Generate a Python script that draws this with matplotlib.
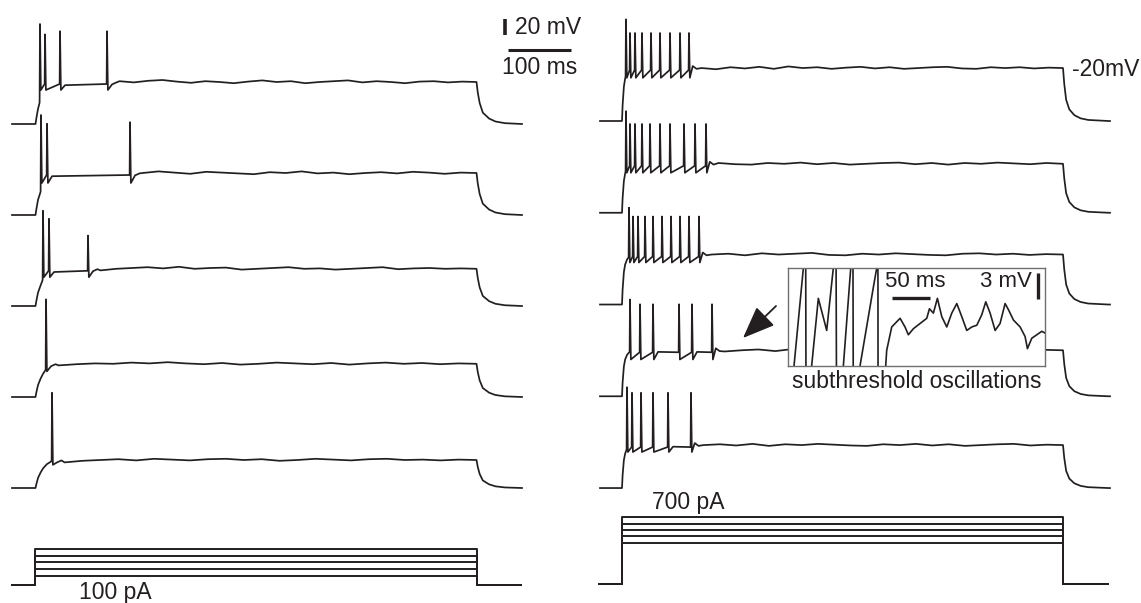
import numpy as np
import matplotlib.pyplot as plt

W, H = 1141, 603
INK = '#231f20'
plt.rcParams['font.family'] = ['Liberation Sans', 'DejaVu Sans']

# ---- data: time in ms, membrane potential in mV, current in pA ----
step_ms = 700

# left cell (100 pA family)
left_base = [-70, -70, -70, -70, -70]
left_plateau = [-17.5, -17.5, -23.5, -28.5, -35]
left_spike_t = [[7.1, 15.1, 38.9, 113.5], [8.7, 18.3, 150.0], [11.9, 21.4, 83.3], [16.7], [26.2]]
left_spike_v = [[55, 42, 46, 46], [55, 44, 46], [49, 39, 18], [52], [49]]
left_trough = [-27.5, -30, -34, -38, -41]
left_wiggle = [
    [1.0, -0.5, 1.5, 2.5, 0.5, -1.0, 1.0, 0, -1.5, 0.5, 2.0, 0, 1.0, -1.5, 0, 1.0, 2.0, -0.5, 1.0, 0, -1.5, 0.5, 1.0, -0.5, 0.5, 0],
    [0, 2.0, 0.5, -1.0, 1.5, 0.5, -0.5, -1.5, 1.0, 0, 2.0, -0.5, 0.5, -1.5, 0, 1.0, -0.5, 1.5, 0.5, -1.0, 0.5, 0],
    [-2.0, 0, 1.0, 2.0, 0.5, 2.5, 0, 1.0, 1.5, -1.0, 0, 1.0, 2.0, 0, 0.5, -1.0, 0, 1.0, 2.0, -0.5, 0.5, 1.0, 0, 0.5, 0],
    [-2.0, -0.5, 0.5, 0, 1.5, 0.5, 2.0, 0.5, -0.5, 1.0, -1.0, 0, 1.5, 0.5, -0.5, 1.0, -1.0, 0.5, 1.5, 0, 1.0, -0.5, 0.5, 0],
    [-3.0, -1.0, 0, 1.0, -0.5, 1.5, 0.5, -0.5, 1.0, 1.5, 0, 1.0, -1.0, 0, 1.5, 0.5, -0.5, 1.0, 1.5, 0, 0.5, -0.5, 0.5, 0],
]
left_currents = [100, 175, 250, 325, 400]

# right cell (700 pA family)
right_base = [-85, -85, -85, -85, -85]
right_plateau = [-18.8, -23.8, -22.5, -27.5, -31.3]
right_spike_t = [
    [6.3, 12.7, 20.6, 31.7, 46.0, 60.3, 76.2, 92.1, 106.3],
    [6.3, 12.7, 20.6, 31.7, 44.4, 60.3, 76.2, 98.4, 115.9, 133.3],
    [11.1, 17.5, 25.4, 36.5, 49.2, 63.5, 77.8, 92.1, 106.3, 122.2],
    [12.7, 28.6, 49.2, 90.5, 111.1, 142.9],
    [7.9, 15.9, 30.2, 49.2, 73.0, 109.5],
]
right_spike_v = [
    [42, 25, 25, 25, 25, 25, 25, 25, 25],
    [42, 26, 26, 26, 26, 26, 26, 26, 26, 26],
    [36, 25, 25, 25, 25, 25, 25, 25, 25, 25],
    [36, 30, 30, 30, 30, 30],
    [41, 34, 34, 34, 34, 34],
]
right_trough = [-31, -35, -32.5, -39, -40]
right_wiggle = [
    [0, -1.5, 1.0, -0.5, 1.5, -1.0, 2.0, 0, 1.0, -1.0, 0.5, 1.5, -0.5, 1.0, -1.0, 0, 1.0, 1.5, -0.5, -1.0, 1.0, 0, 1.0, -0.5, 0.5, 0],
    [1.0, -0.5, -1.0, 1.0, 0, 1.5, -0.5, 1.0, -1.0, 0, 1.0, 1.5, -0.5, 1.0, -1.0, 1.0, 0, 1.5, 0.5, -0.5, 1.0, 0],
    [0, 1.0, -1.0, 1.5, 0, 1.0, 2.0, -0.5, -1.0, 1.0, 0, 1.5, 0.5, -0.5, -1.0, 1.0, 1.5, 0, 1.0, -0.5, 0.5, 0],
    [-1.5, 0, 1.0, -1.0, 1.5, 0.5, -0.5, 2.0, 0, 1.0, 1.5, -0.5, -1.0, 1.0, 1.5, 0, 1.0, -0.5, 1.5, 0.5, 0],
    [0, 1.0, -0.5, 1.5, -1.0, 1.0, 0, 1.5, 0.5, -0.5, -1.0, 1.0, 0, 1.5, -0.5, 1.0, -1.0, 0, 1.0, 1.5, -0.5, 0.5, 0],
]
right_currents = [430, 497, 565, 632, 700]

# charging / discharging shape (ms, fraction of step)
left_rise = [(0, 0), (1.5, 0.15), (4, 0.36), (8, 0.55), (12, 0.7), (18, 0.85), (25, 0.95), (40, 1)]
left_decay = [(0, 1), (2, 0.75), (5, 0.5), (10, 0.27), (20, 0.13), (30, 0.06), (45, 0.02), (72, 0)]
right_rise = [(0, 0), (1, 0.3), (3, 0.65), (5, 0.8), (8, 0.9), (15, 1)]
right_decay = [(0, 1), (2, 0.7), (5, 0.4), (10, 0.22), (18, 0.11), (28, 0.05), (40, 0.02), (72, 0)]

# inset: subthreshold oscillations (ms, mV)
inset_t = [0, 7.9, 20.2, 21.5, 23.8, 31.1, 39.9, 50.9, 59.6, 60.5, 64.0, 72.8, 82.5, 83.5, 86.0,
           94.7, 112.3, 116.7, 117.5, 118.5, 128.5, 129.8, 136.4, 147.4, 153.9, 158.3, 164.9,
           173.7, 182.5, 186.0, 191.2, 196.5, 202.2, 208.8, 215.4, 222.0, 228.5, 235.1, 241.7,
           248.3, 254.8, 260.1, 265.8, 272.4, 278.9, 285.5, 289.9, 296.5, 305.3, 311.8, 314.9,
           320.6, 327.2, 333.8, 338]
inset_v = [-66, -62, -50.7, 20, -70, -62, -54.2, -57.9, -50.7, 20, -70, -62, -50.7, 20, -70,
           -62, -52.9, -50.7, 20, -70, -62, -60.2, -57.5, -56.5, -57.5, -58.4, -57.7,
           -57.1, -56.5, -55.4, -55.9, -54.2, -56.3, -57.5, -55.9, -54.8, -56.3, -57.9, -57.5,
           -57.3, -56.1, -54.6, -55.9, -57.9, -57.1, -54.8, -55.5, -56.7, -57.5, -58.6, -60.0,
           -58.8, -58.4, -58.0, -58.2]


def build_trace(t0, t1, base, plat, spk_t, spk_v, trough, wig, rise, decay, post, recover):
    amp = plat - base
    t, v = [t0, 0.0], [base, base]
    rt = [r[0] for r in rise]
    rf = [r[1] for r in rise]
    for a, f in rise[1:]:
        if a < spk_t[0] - 0.6:
            t.append(a)
            v.append(base + f * amp)
    t.append(spk_t[0] - 0.6)
    v.append(base + np.interp(spk_t[0], rt, rf) * amp)
    thr = plat - 2.5
    for k, (ts, vp) in enumerate(zip(spk_t, spk_v)):
        t += [ts, ts + 1.4]
        v += [vp, trough]
        if k + 1 < len(spk_t):
            if spk_t[k + 1] - ts > 25:
                t.append(ts + recover[0])
                v.append(plat + recover[1])
            t.append(spk_t[k + 1] - 0.6)
            v.append(thr)
    last = spk_t[-1]
    for dt, dv in post:
        t.append(last + dt)
        v.append(plat + dv)
    tw = np.linspace(last + 20, step_ms, len(wig))
    t += list(tw)
    v += [plat + w for w in wig]
    v_end = v[-1]
    for dt, f in decay[1:]:
        t.append(step_ms + dt)
        v.append(base + f * (v_end - base))
    t.append(t1)
    v.append(base)
    return t, v


def px_axes(fig, x0, y0, x1, y1):
    ax = fig.add_axes([x0 / W, 1 - y1 / H, (x1 - x0) / W, (y1 - y0) / H])
    ax.set_axis_off()
    ax.patch.set_alpha(0)
    return ax


fig = plt.figure(figsize=(W / 100, H / 100), dpi=100)

# voltage panels
axL = px_axes(fig, 12, 0, 522, 500)
axL.set_xlim(-37.3, 772.2)
axL.set_ylim(-540, 85)
axR = px_axes(fig, 600, 0, 1110, 500)
axR.set_xlim(-34.9, 774.6)
axR.set_ylim(-558.75, 66.25)

for i in range(5):
    t, v = build_trace(-37.3, 772.2, left_base[i], left_plateau[i], left_spike_t[i], left_spike_v[i],
                       left_trough[i], left_wiggle[i], left_rise, left_decay,
                       [(8, -3.0), (15, -0.5)], (8, -4.0))
    axL.plot(t, np.array(v) - 113.75 * i, color=INK, lw=1.25, clip_on=False)
    t, v = build_trace(-34.9, 774.6, right_base[i], right_plateau[i], right_spike_t[i], right_spike_v[i],
                       right_trough[i], right_wiggle[i], right_rise, right_decay,
                       [(6, 2.5), (12, -1.0)], (8, -2.0))
    axR.plot(t, np.array(v) - 114.7 * i, color=INK, lw=1.25, clip_on=False)

# scale bars: 20 mV / 100 ms
axL.plot([745, 745], [41.25, 61.25], color=INK, lw=2.6, clip_on=False, solid_capstyle='butt')
axL.plot([750, 850], [22.5, 22.5], color=INK, lw=2.2, clip_on=False, solid_capstyle='butt')

# current steps
cL = px_axes(fig, 12, 500, 522, 600)
cL.set_xlim(-37.3, 772.2)
cL.set_ylim(-166.7, 944.4)
cR = px_axes(fig, 600, 500, 1110, 600)
cR.set_xlim(-34.9, 774.6)
cR.set_ylim(-167.2, 877.7)
for ax, amps, t0, t1 in [(cL, left_currents, -37.3, 770), (cR, right_currents, -37, 772)]:
    for a in amps:
        ax.plot([t0, 0, 0, step_ms, step_ms, t1], [0, 0, a, a, 0, 0], color=INK, lw=1.4,
                clip_on=False)

# inset
ins = fig.add_axes([788 / W, 1 - 366 / H, (1045 - 788) / W, (366 - 268) / H])
ins.set_facecolor('white')
ins.set_xticks([])
ins.set_yticks([])
for s in ins.spines.values():
    s.set_color('#707070')
    s.set_linewidth(1.0)
ins.set_xlim(0, 338)
ins.set_ylim(-62, -50.7)
ins.plot(inset_t, inset_v, color=INK, lw=1.2)
ins.plot([137, 187], [-54.2, -54.2], color=INK, lw=2.4, solid_capstyle='butt')
ins.plot([329, 329], [-54.3, -51.3], color=INK, lw=2.4, solid_capstyle='butt')
ins.text(167, -52.3, '50 ms', ha='center', va='center', fontsize=16, color=INK)
ins.text(321, -52.3, '3 mV', ha='right', va='center', fontsize=16, color=INK)

# labels / arrow in figure pixels
ov = fig.add_axes([0, 0, 1, 1])
ov.set_xlim(0, W)
ov.set_ylim(H, 0)
ov.set_axis_off()
ov.patch.set_alpha(0)
fs = 16.5
ov.text(515, 27, '20 mV', ha='left', va='center', fontsize=fs, color=INK)
ov.text(540, 68, '100 ms', ha='center', va='center', fontsize=fs, color=INK)
ov.text(1072, 70, '-20mV', ha='left', va='center', fontsize=fs, color=INK)
ov.text(115, 592, '100 pA', ha='center', va='center', fontsize=fs, color=INK)
ov.text(688, 502, '700 pA', ha='center', va='center', fontsize=fs, color=INK)
ov.text(917, 382, 'subthreshold oscillations', ha='center', va='center', fontsize=fs, color=INK)
ov.annotate('', xy=(743, 338), xytext=(776, 306),
            arrowprops=dict(arrowstyle='-|>,head_length=1.0,head_width=0.4', color=INK, lw=1.3,
                            mutation_scale=20, shrinkA=0, shrinkB=0))

fig.savefig('out.png', dpi=100)
